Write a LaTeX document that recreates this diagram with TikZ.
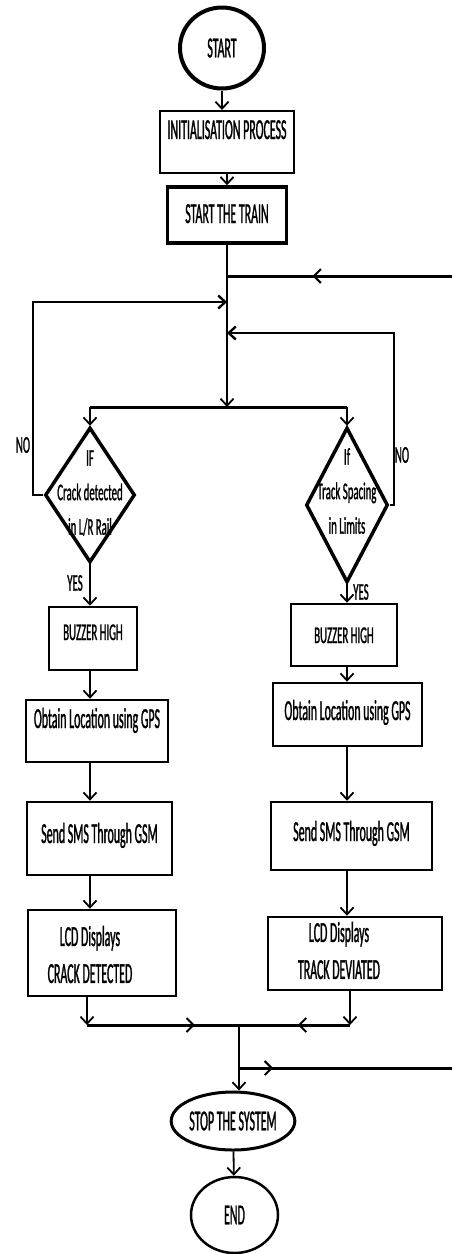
\documentclass[tikz,border=0pt]{standalone}
\usepackage{fontspec}
\setmainfont{Carlito}[FakeStretch=0.41, FakeBold=1]
\newfontfamily\smallface{Carlito}[FakeStretch=0.45, FakeBold=1]
\usetikzlibrary{arrows.meta,shapes.geometric,decorations.markings}
\tikzset{
	box/.style={draw, rectangle, line width=2.5pt, inner sep=0pt, font=\fontsize{29}{36}\selectfont, text height=18pt, text depth=2pt},
	term/.style={draw, ellipse, inner sep=0pt, font=\fontsize{29}{36}\selectfont},
	test/.style={draw, diamond, line width=3.5pt, inner sep=0pt},
	txt/.style={align=center, font=\smallface\fontsize{24}{34.5}\selectfont},
	go/.style={line width=1.8pt, -{Straight Barb[length=7pt,width=13pt]}},
	bus/.style={line width=3pt},
	midarrow/.style={postaction={decorate}, decoration={markings, mark=at position #1 with {\arrow[line width=2pt]{Straight Barb[length=7pt,width=14pt]}}}}
}

\begin{document}
\begin{tikzpicture}[x=1pt, y=-1pt]
			%%%%% START %%%%%
			\useasboundingbox (0,0) rectangle (452,1254);
			
			\node[term, line width=4pt, minimum width=84pt, minimum height=81pt] (start) at (222,48) {START};
			\node[box, line width=2pt, minimum width=134pt, minimum height=62pt, text depth=24pt] (init) at (227,142) {INITIALISATION PROCESS};
			\node[box, line width=3.5pt, minimum width=119pt, minimum height=56pt] (train) at (227,215) {START THE TRAIN};
			
			\coordinate (j1) at (227,276);
			\coordinate (j2) at (227,302);
			\coordinate (j3) at (227,333);
			\coordinate (j4) at (227,407);
			\coordinate (e1) at (452,276);
			
			\node[test, minimum width=90pt, minimum height=135pt, label={[txt, yshift=2pt]center:IF\\Crack detected\\in L/R Rail}] (dleft) at (90,495) {};
			\node[test, minimum width=82pt, minimum height=155pt, label={[txt, yshift=14pt]center:If\\Track Spacing\\in Limits}] (dright) at (347,505) {};
			
			\node[txt] (no1) at (23,445) {NO};
			\node[txt] (no2) at (402,455) {NO};
			\node[txt] (yes1) at (75,583) {YES};
			\node[txt] (yes2) at (361,592) {YES};
			
			% left side
			\node[box, font=\smallface\fontsize{24}{34}\selectfont, minimum width=88pt, minimum height=63pt, text depth=15pt] (bzl) at (93,638.5) {BUZZER HIGH};
			\node[box, minimum width=142pt, minimum height=62pt, text depth=24pt] (gpsl) at (97,731) {Obtain Location using GPS};
			\node[box, minimum width=145pt, minimum height=73pt, text depth=9pt] (smsl) at (99.5,838.5) {Send SMS Through GSM};
			\node[box, minimum width=148pt, minimum height=86pt, label={[align=center, font=\fontsize{29}{37}\selectfont, xshift=-12pt, yshift=-1.5pt]center:LCD Displays\\CRACK DETECTED}] (lcdl) at (102,953) {};
			
			% right side
			\node[box, font=\smallface\fontsize{24}{34}\selectfont, minimum width=106pt, minimum height=62pt] (bzr) at (344,635) {BUZZER HIGH};
			\node[box, minimum width=149pt, minimum height=63pt, text depth=7pt] (gpsr) at (347.5,714.5) {Obtain Location using GPS};
			\node[box, minimum width=161pt, minimum height=68pt, text depth=8pt] (smsr) at (351.5,836) {Send SMS Through GSM};
			\node[box, minimum width=174pt, minimum height=73pt, label={[align=center, font=\fontsize{29}{37}\selectfont, xshift=-16pt, yshift=3pt]center:LCD Displays\\TRACK DEVIATED}] (lcdr) at (355,953.5) {};
			
			\coordinate (b1) at (87,1025);
			\coordinate (b2) at (350,1025);
			\coordinate (j5) at (239,1025);
			\coordinate (j6) at (239,1068);
			\coordinate (e2) at (452,1068);
			
			\node[term, line width=3pt, minimum width=120pt, minimum height=58pt] (stop) at (233,1121) {STOP THE SYSTEM};
			\node[term, line width=2.5pt, minimum width=87pt, minimum height=76pt] (finish) at (234.5,1215) {END};
			
			% top
			\draw[go] (start) -- (start |- init.north);
			\draw[go] (init.south) -- (init.south |- train.north);
			\draw[go] (train) -- (j4);
			\draw[bus, midarrow=0.62] (e1) -- (j1);
			\draw[go, line width=2.4pt] (dleft.west) -- ++(-10,0) |- (j2);
			\draw[go, line width=2.4pt] (dright.east) -- ++(4,0) |- (j3);
			\draw[bus] (j4 -| dleft) -- (j4 -| dright);
			\draw[go] (j4 -| dleft) -- (dleft.north);
			\draw[go] (j4 -| dright) -- (dright.north);
			
			% left column
			\draw[go] (dleft.south) -- (dleft.south |- bzl.north);
			\draw[go] (bzl.south -| dleft) -- (gpsl.north -| dleft);
			\draw[go] (gpsl.south -| dleft) -- (smsl.north -| dleft);
			\draw[go] (smsl.south -| dleft) -- (lcdl.north -| dleft);
			\draw[go] (lcdl.south -| b1) -- (b1);
			
			% right column
			\draw[go] (dright.south) -- (dright.south |- bzr.north);
			\draw[go] (bzr.south -| dright) -- (gpsr.north -| dright);
			\draw[go] (gpsr.south -| dright) -- (smsr.north -| dright);
			\draw[go] (smsr.south -| dright) -- (lcdr.north -| dright);
			\draw[go] (lcdr.south -| b2) -- (b2);
			
			% bottom
			\draw[bus, midarrow=0.71] (b1) -- (j5);
			\draw[bus, midarrow=0.47] (b2) -- (j5);
			\draw[go] (j5) -- (j5 |- stop.north);
			\draw[bus, midarrow=0.16] (j6) -- (e2);
			\draw[go] (stop) -- (finish);
			
			%%%%% END %%%%%
\end{tikzpicture}
\end{document}
